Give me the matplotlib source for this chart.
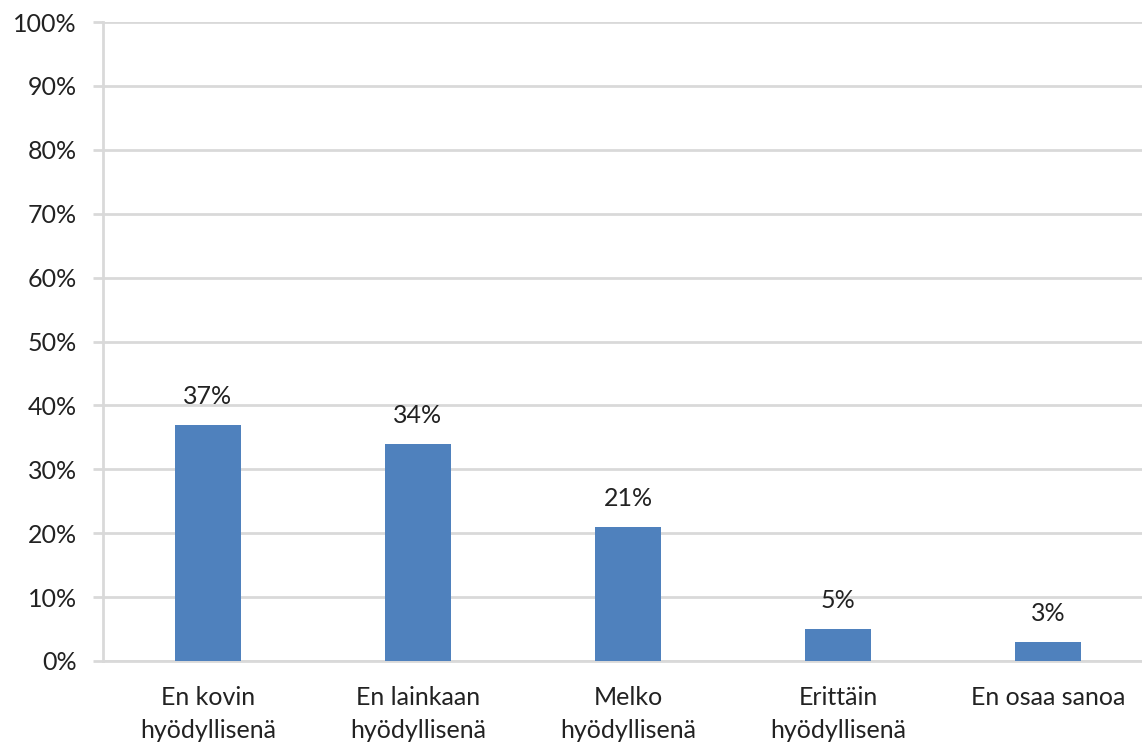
import numpy as np
import matplotlib
matplotlib.use("Agg")
from matplotlib import pyplot as plt

# survey answers and their shares (%)
categories = ["En kovin\nhyödyllisenä", "En lainkaan\nhyödyllisenä", "Melko\nhyödyllisenä",
              "Erittäin\nhyödyllisenä", "En osaa sanoa"]
shares = [37, 34, 21, 5, 3]
y_ticks = list(range(0, 101, 10))

plt.rcParams['font.family'] = ['Lato', 'DejaVu Sans']

W, H = 1142, 749
fig = plt.figure(figsize=(W / 100, H / 100), dpi=100)
# axes box in pixels: left edge of plot at 103, top at 22, bottom at 661, runs off the right edge
left, top, bottom = 103, 22, 661
ax = fig.add_axes([left / W, 1 - bottom / H, (W - left) / W, (bottom - top) / H])

grid_col = '#d9d9d9'
text_col = '#222222'
fs = 18
x = np.arange(len(categories))
ax.bar(x, shares, width=0.314, color='#4f81bd', zorder=3)

# value labels above each bar
for xi, v in zip(x, shares):
  ax.annotate('%d%%' % v, (xi, v), xytext=(0, 12), textcoords='offset points',
              ha='center', va='bottom', fontsize=fs, color=text_col)

ax.set_ylim(0, 100)
ax.set_xlim(-0.5, -0.5 + (W - left) / 210.0)
ax.set_yticks(y_ticks)
ax.set_yticklabels(['%d%%' % t for t in y_ticks])
ax.set_xticks(x)
ax.set_xticklabels(categories)
ax.yaxis.grid(True, color=grid_col, linewidth=2, zorder=0)
ax.set_axisbelow(True)

for side in ['top', 'right']:
  ax.spines[side].set_visible(False)
for side in ['left', 'bottom']:
  ax.spines[side].set_color(grid_col)
  ax.spines[side].set_linewidth(2)

ax.tick_params(axis='y', length=7, width=2, color=grid_col, labelsize=fs, labelcolor=text_col, pad=12)
ax.tick_params(axis='x', length=0, labelsize=fs, labelcolor=text_col, pad=18)
for lbl in ax.get_xticklabels():
  lbl.set_linespacing(1.5)

fig.savefig('out.png', dpi=100, facecolor='white')
